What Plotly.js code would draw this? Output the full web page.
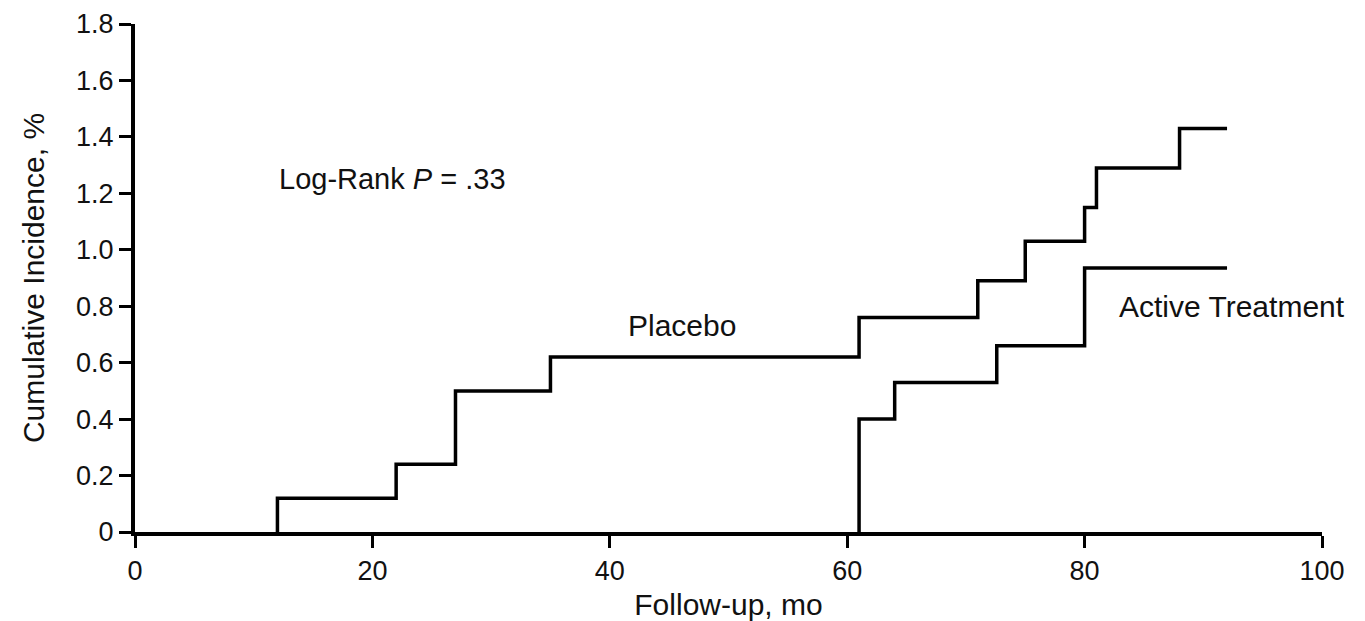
<!DOCTYPE html>
<html>
<head>
<meta charset="utf-8">
<script src="https://cdn.plot.ly/plotly-3.0.1.min.js"></script>
<style>html,body{margin:0;padding:0;background:#fff;}#chart{width:1365px;height:621px;}</style>
</head>
<body>
<div id="chart"></div>
<script>
// Follow-up times (months) where steps occur, and cumulative incidence (%)
const placeboMonths = [12, 12, 22, 27, 35, 61, 71, 75, 80, 81, 88, 92];
const placeboIncidence = [0, 0.12, 0.24, 0.50, 0.62, 0.76, 0.89, 1.03, 1.15, 1.29, 1.43, 1.43];
const activeMonths = [61, 61, 64, 72.6, 80, 92];
const activeIncidence = [0, 0.40, 0.53, 0.66, 0.935, 0.935];

const xTickVals = [0, 20, 40, 60, 80, 100];
const yTickVals = [0, 0.2, 0.4, 0.6, 0.8, 1.0, 1.2, 1.4, 1.6, 1.8];
const yTickText = ["0", "0.2", "0.4", "0.6", "0.8", "1.0", "1.2", "1.4", "1.6", "1.8"];

const FONT = '"Liberation Sans", Arial, Helvetica, sans-serif';

const traces = [
  {x: placeboMonths, y: placeboIncidence, name: 'Placebo', type: 'scatter', mode: 'lines',
   line: {shape: 'hv', color: '#000', width: 3.5}},
  {x: activeMonths, y: activeIncidence, name: 'Active Treatment', type: 'scatter', mode: 'lines',
   line: {shape: 'hv', color: '#000', width: 3.5}}
];

const layout = {
  width: 1365, height: 621,
  margin: {l: 134.5, r: 42.5, t: 24, b: 88.5},
  paper_bgcolor: '#fff', plot_bgcolor: '#fff',
  showlegend: false,
  font: {family: FONT, color: '#000'},
  xaxis: {
    range: [0, 100], tickvals: xTickVals, ticktext: xTickVals.map(String),
    showgrid: false, zeroline: false, showline: true, linecolor: '#000', linewidth: 4,
    ticks: 'outside', ticklen: 12, tickwidth: 3, tickcolor: '#000',
    tickfont: {family: FONT, size: 27, color: '#111'},
    title: {text: 'Follow-up, mo', font: {family: FONT, size: 30, color: '#111'}, standoff: 20},
    automargin: false, fixedrange: true
  },
  yaxis: {
    range: [0, 1.8], tickvals: yTickVals, ticktext: yTickText,
    showgrid: false, zeroline: false, showline: true, linecolor: '#000', linewidth: 4,
    ticks: 'outside', ticklen: 12, tickwidth: 3, tickcolor: '#000',
    tickfont: {family: FONT, size: 27, color: '#111'},
    title: {text: 'Cumulative Incidence, %', font: {family: FONT, size: 30, color: '#111'}, standoff: 24},
    automargin: false, fixedrange: true
  },
  annotations: [
    {x: 12, y: 1.25, xref: 'x', yref: 'y', xanchor: 'left', yanchor: 'middle', showarrow: false,
     text: 'Log-Rank <i>P</i> = .33', font: {family: FONT, size: 29, color: '#111'}},
    {x: 41.4, y: 0.73, xref: 'x', yref: 'y', xanchor: 'left', yanchor: 'middle', showarrow: false,
     text: 'Placebo', font: {family: FONT, size: 30, color: '#111'}},
    {x: 82.7, y: 0.80, xref: 'x', yref: 'y', xanchor: 'left', yanchor: 'middle', showarrow: false,
     text: 'Active Treatment', font: {family: FONT, size: 30, color: '#111'}}
  ]
};

Plotly.newPlot('chart', traces, layout, {displayModeBar: false, staticPlot: true});
</script>
</body>
</html>
